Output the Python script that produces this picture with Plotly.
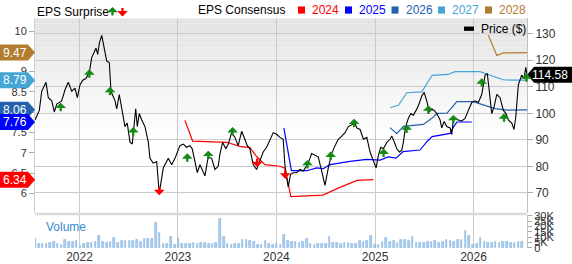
import plotly.graph_objects as go
import pandas as pd

# ---------------- data (decimal years) ----------------
price_t = [2021.548, 2021.592, 2021.616, 2021.660, 2021.683, 2021.718, 2021.744, 2021.769, 2021.819, 2021.853,
           2021.886, 2021.921, 2021.954, 2021.978, 2022.005, 2022.033, 2022.066, 2022.100, 2022.124, 2022.168,
           2022.185, 2022.201, 2022.226, 2022.249, 2022.276, 2022.303, 2022.320, 2022.361, 2022.378, 2022.404,
           2022.429, 2022.462, 2022.485, 2022.513, 2022.536, 2022.553, 2022.571, 2022.587, 2022.607, 2022.632,
           2022.665, 2022.699, 2022.716, 2022.749, 2022.784, 2022.810, 2022.851, 2022.902, 2022.936, 2022.970,
           2023.020, 2023.054, 2023.088, 2023.122, 2023.145, 2023.173, 2023.196, 2023.224, 2023.251, 2023.274,
           2023.308, 2023.342, 2023.376, 2023.409, 2023.427, 2023.454, 2023.487, 2023.511, 2023.545, 2023.579,
           2023.612, 2023.647, 2023.680, 2023.704, 2023.731, 2023.765, 2023.799, 2023.833, 2023.866, 2023.901,
           2023.934, 2023.968, 2024.002, 2024.036, 2024.069, 2024.086, 2024.104, 2024.120, 2024.144, 2024.171,
           2024.205, 2024.239, 2024.272, 2024.300, 2024.323, 2024.357, 2024.391, 2024.424, 2024.459, 2024.492,
           2024.526, 2024.560, 2024.594, 2024.627, 2024.662, 2024.695, 2024.729, 2024.764, 2024.797, 2024.814,
           2024.848, 2024.881, 2024.916, 2024.949, 2024.977, 2025.010, 2025.034, 2025.058, 2025.084, 2025.119,
           2025.152, 2025.170, 2025.203, 2025.220, 2025.247, 2025.271, 2025.287, 2025.305, 2025.322, 2025.338,
           2025.363, 2025.389, 2025.416, 2025.440, 2025.474, 2025.498, 2025.525, 2025.551, 2025.576, 2025.599,
           2025.627, 2025.660, 2025.677, 2025.701, 2025.728, 2025.762, 2025.779, 2025.795, 2025.822, 2025.846,
           2025.880, 2025.914, 2025.947, 2025.982, 2026.015, 2026.049, 2026.083, 2026.117, 2026.140, 2026.161,
           2026.185, 2026.208, 2026.236, 2026.269, 2026.303, 2026.330, 2026.353, 2026.388, 2026.411, 2026.429,
           2026.455, 2026.489, 2026.513, 2026.530, 2026.543]
price_v = [97.5, 101.1, 108.3, 111.7, 105.9, 104.7, 100.5, 103.5, 104.7, 108.9,
           111.7, 108.3, 109.5, 105.9, 110.7, 112.5, 113.1, 115.5, 121.0, 124.6,
           122.2, 126.4, 129.4, 125.2, 119.8, 119.1, 108.3, 104.7, 101.7, 107.1,
           102.3, 95.0, 96.3, 89.1, 88.4, 93.9, 101.7, 95.0, 99.9, 97.5,
           95.0, 89.1, 83.0, 81.2, 81.8, 69.8, 79.4, 83.0, 80.6, 83.0,
           87.8, 88.4, 87.2, 87.8, 86.6, 81.8, 77.6, 80.6, 78.2, 76.4,
           83.6, 83.0, 78.8, 80.0, 84.8, 89.0, 86.6, 88.4, 92.7, 90.9,
           87.8, 93.2, 90.2, 87.8, 86.6, 80.6, 78.8, 81.8, 85.4, 87.2,
           90.2, 92.7, 92.1, 90.9, 90.2, 80.6, 75.8, 72.2, 77.0, 77.6,
           77.6, 78.8, 78.2, 80.0, 81.2, 84.8, 84.2, 83.6, 78.2, 72.8,
           79.4, 84.8, 87.8, 90.2, 91.4, 92.7, 95.0, 95.6, 96.3, 94.5,
           93.9, 90.2, 90.9, 85.4, 82.4, 79.4, 84.2, 87.2, 86.6, 89.0,
           90.2, 91.4, 88.4, 86.6, 85.4, 86.0, 89.0, 93.9, 96.3, 98.1,
           99.9, 99.3, 101.1, 102.9, 106.5, 107.9, 104.7, 100.5, 101.7, 101.1,
           99.9, 97.5, 94.5, 96.9, 95.0, 94.5, 92.0, 97.5, 98.1, 97.5,
           97.1, 98.1, 101.1, 104.1, 104.7, 104.1, 107.1, 114.4, 114.9, 106.5,
           99.9, 102.3, 107.1, 105.9, 101.1, 99.9, 97.5, 96.3, 93.9, 98.7,
           110.7, 114.4, 113.1, 117.3, 114.58]

eps24_t = [2023.071, 2023.149, 2023.495, 2023.630, 2023.731, 2023.799, 2023.883, 2024.036, 2024.086, 2024.147,
           2024.472, 2024.614, 2024.817, 2024.983]
eps24_v = [7.80, 7.29, 7.26, 7.16, 7.13, 6.91, 6.71, 6.67, 6.62, 5.92, 5.96, 6.12, 6.32, 6.34]
eps25_t = [2024.076, 2024.152, 2024.307, 2024.408, 2024.475, 2024.543, 2024.746, 2024.916, 2025.051, 2025.132,
           2025.213, 2025.284, 2025.457, 2025.528, 2025.579, 2025.762, 2025.797, 2025.833, 2025.982]
eps25_v = [7.61, 6.56, 6.56, 6.63, 6.61, 6.71, 6.79, 6.84, 6.82, 6.90, 6.87, 7.03, 7.07, 7.28, 7.40, 7.48, 7.64, 7.76, 7.76]
eps26_t = [2025.152, 2025.220, 2025.287, 2025.491, 2025.576, 2025.630, 2025.731, 2025.830, 2025.995, 2026.097,
           2026.218, 2026.340, 2026.543]
eps26_v = [7.62, 7.47, 7.65, 7.70, 7.85, 7.97, 7.98, 8.26, 8.26, 8.19, 8.09, 8.05, 8.06]
eps27_t = [2025.152, 2025.237, 2025.322, 2025.474, 2025.559, 2025.579, 2025.741, 2025.812, 2026.066, 2026.168,
           2026.300, 2026.401, 2026.543]
eps27_v = [8.11, 8.17, 8.48, 8.50, 8.83, 8.91, 8.93, 9.00, 9.00, 8.91, 8.80, 8.79, 8.79]
eps28_t = [2026.150, 2026.236, 2026.303, 2026.543]
eps28_v = [9.90, 9.40, 9.46, 9.47]

beat_t = [2021.809, 2022.100, 2022.310, 2022.546, 2023.095, 2023.308, 2023.555, 2024.315, 2024.550, 2024.787,
          2025.086, 2025.320, 2025.541, 2025.795, 2026.083, 2026.310, 2026.538]
beat_p = [102.1, 114.7, 108.1, 92.9, 83.0, 84.0, 92.9, 80.5, 83.7, 96.1,
          84.8, 93.9, 101.1, 97.5, 111.3, 98.1, 113.2]
miss_t = [2022.810, 2023.805, 2024.089]
miss_p = [71.0, 81.6, 77.2]

vol_start = "2021-07-20"
vol_k = [8.9, 4.2, 3.8, 3.5, 4.5, 5.5, 3.6, 3.2, 7.5, 6.0, 5.8, 6.2, 1.8,
         3.5, 5.0, 5.2, 5.8, 11.0, 5.5, 4.8, 6.0, 9.7, 5.2, 6.5, 7.0, 6.8,
         6.2, 7.2, 6.0, 8.9, 8.2, 8.7, 23.6, 13.9, 4.0, 3.5, 10.5, 3.2, 8.3,
         4.0, 3.8, 4.2, 5.0, 3.9, 4.5, 5.2, 4.0, 3.8, 4.4, 27.0, 10.5, 3.5,
         3.2, 4.0, 3.4, 7.5, 7.2, 6.8, 5.5, 3.3, 3.0, 6.3, 3.5, 3.1, 4.0,
         3.3, 12.5, 6.5, 5.5, 5.8, 4.5, 6.0, 8.3, 4.2, 3.2, 3.8, 3.5, 4.0,
         10.8, 5.2, 4.5, 4.0, 4.8, 5.0, 3.8, 4.2, 7.0, 5.5, 6.2, 11.7, 2.5,
         3.0, 6.0, 9.2, 5.5, 6.8, 5.0, 7.5, 7.8, 6.5, 10.3, 5.2, 4.8, 5.0,
         6.0, 5.5, 6.2, 4.8, 5.8, 7.2, 6.5, 6.0, 8.0, 7.8, 15.6, 11.0, 3.0,
         4.0, 9.7, 5.5, 4.8, 5.2, 6.0, 4.5, 6.0, 5.8, 5.0, 4.6, 6.0, 5.5]

year_ticks = ["2022", "2023", "2024", "2025", "2026"]
eps_ticks = [6, 6.5, 7, 7.5, 8, 8.5, 9, 9.5, 10]
price_ticks = [70, 80, 90, 100, 110, 120, 130]
vol_ticks = [0, 5, 10, 15, 20, 25, 30]
series_names = ["2024", "2025", "2026", "2027", "2028"]
series_colors = ["#FF0000", "#0000FF", "#2361AE", "#45A6D6", "#B27D2E"]


def dy(v):
    y = int(v)
    a = pd.Timestamp(year=y, month=1, day=1)
    b = pd.Timestamp(year=y + 1, month=1, day=1)
    return a + (b - a) * (v - y)


def dl(arr):
    return [dy(v) for v in arr]


W, H = 572, 264
L, R = 35, 527
MT, MB = 14, 217
VT, VB = 219, 253.5
FONT = "Liberation Sans, Arial, sans-serif"
GREEN = "#168A16"

fig = go.Figure()

# volume
vol_dates = pd.date_range(vol_start, periods=len(vol_k), freq="14D")
fig.add_trace(go.Bar(x=vol_dates, y=[v * 1000 for v in vol_k], xaxis="x2", yaxis="y3",
                     marker=dict(color="#B3D1EE", line=dict(color="#7AAEDD", width=0.6)),
                     width=1000 * 3600 * 24 * 6, showlegend=False, hoverinfo="skip"))

# EPS consensus lines
for t, v, c in zip([eps24_t, eps25_t, eps26_t, eps27_t, eps28_t],
                   [eps24_v, eps25_v, eps26_v, eps27_v, eps28_v], series_colors):
    fig.add_trace(go.Scatter(x=dl(t), y=v, mode="lines", line=dict(color=c, width=1.2),
                             yaxis="y", xaxis="x", showlegend=False, hoverinfo="skip"))

# price
fig.add_trace(go.Scatter(x=dl(price_t), y=price_v, mode="lines", line=dict(color="#000000", width=1.1),
                         yaxis="y2", xaxis="x", showlegend=False, hoverinfo="skip"))

shapes = []
annotations = []

# gradient background for main panel
nsteps = 40
for i in range(nsteps):
    y0 = MT + (MB - MT) * i / nsteps
    y1 = MT + (MB - MT) * (i + 1) / nsteps
    f = min(1.0, (i + 0.5) / (nsteps * 0.62))
    g = int(round(0xE3 + (0xFF - 0xE3) * f))
    col = "#%02x%02x%02x" % (g, g, g)
    shapes.append(dict(type="rect", xref="paper", yref="paper", x0=L / W, x1=R / W,
                       y0=1 - y1 / H, y1=1 - y0 / H, fillcolor=col, line=dict(width=0), layer="below"))

# separator between panels
shapes.append(dict(type="line", xref="paper", yref="paper", x0=L / W, x1=R / W,
                   y0=1 - 218 / H, y1=1 - 218 / H, line=dict(color="#DADADA", width=2.5)))

ARW = dict(arrowhead=1, arrowsize=0.78, arrowwidth=2.3)

# surprise arrows
for t, p in zip(beat_t, beat_p):
    annotations.append(dict(x=dy(t), y=p, xref="x", yref="y2", text="", showarrow=True,
                            ax=0, ay=10, yshift=5, arrowcolor=GREEN, **ARW))
for t, p in zip(miss_t, miss_p):
    annotations.append(dict(x=dy(t), y=p, xref="x", yref="y2", text="", showarrow=True,
                            ax=0, ay=-10, yshift=-5, arrowcolor="#FF0000", **ARW))

# left badges (latest consensus)
last_vals = [eps24_v[-1], eps25_v[-1], eps26_v[-1], eps27_v[-1], eps28_v[-1]]
order = [4, 3, 2, 1, 0]
for i in order:
    v = last_vals[i]
    shapes.append(dict(type="path", xref="paper", yref="y", xsizemode="pixel", ysizemode="pixel",
                       xanchor=0, yanchor=v, path="M0,-8 L28,-8 L35,0 L28,8 L0,8 Z",
                       fillcolor=series_colors[i], line=dict(width=0), layer="above"))
    annotations.append(dict(x=15 / W, y=v, xref="paper", yref="y", text="%.2f" % v, showarrow=False,
                            font=dict(color="white", size=12, family=FONT), xanchor="center", yanchor="middle"))

# right price badge
lastp = price_v[-1]
shapes.append(dict(type="path", xref="paper", yref="y2", xsizemode="pixel", ysizemode="pixel",
                   xanchor=R / W, yanchor=lastp, path="M0,0 L7,-8 L45,-8 L45,8 L7,8 Z",
                   fillcolor="#000000", line=dict(width=0), layer="above"))
annotations.append(dict(x=550 / W, y=lastp, xref="paper", yref="y2", text="%.2f" % lastp, showarrow=False,
                        font=dict(color="white", size=12, family=FONT), xanchor="center", yanchor="middle"))

# price legend inside plot
shapes.append(dict(type="rect", xref="paper", yref="paper", x0=464 / W, x1=474 / W,
                   y0=1 - 27 / H, y1=1 - 22.5 / H, fillcolor="#000000", line=dict(width=0)))
annotations.append(dict(x=479 / W, y=1 - 25 / H, xref="paper", yref="paper", text="Price ($)",
                        showarrow=False, xanchor="left", yanchor="middle",
                        font=dict(color="#000000", size=12, family=FONT)))

# top legends
annotations.append(dict(x=35 / W, y=1 - 7 / H, xref="paper", yref="paper", text="EPS Surprise",
                        showarrow=False, xanchor="left", yanchor="middle",
                        font=dict(color="#000000", size=12, family=FONT)))
annotations.append(dict(x=112.5 / W, y=1 - 2 / H, xref="paper", yref="paper", text="", showarrow=True,
                        ax=0, ay=10, arrowcolor=GREEN, **ARW))
annotations.append(dict(x=122.5 / W, y=1 - 12 / H, xref="paper", yref="paper", text="", showarrow=True,
                        ax=0, ay=-10, arrowcolor="#FF0000", **ARW))
annotations.append(dict(x=196 / W, y=1 - 5.5 / H, xref="paper", yref="paper", text="EPS Consensus",
                        showarrow=False, xanchor="left", yanchor="middle",
                        font=dict(color="#000000", size=12, family=FONT)))
sq_x = [298, 345, 391.5, 438, 485]
for name, c, sx in zip(series_names, series_colors, sq_x):
    shapes.append(dict(type="rect", xref="paper", yref="paper", x0=sx / W, x1=(sx + 7) / W,
                       y0=1 - 9 / H, y1=1 - 1.5 / H, fillcolor=c, line=dict(width=0)))
    annotations.append(dict(x=(sx + 12) / W, y=1 - 5.5 / H, xref="paper", yref="paper", text=name,
                            showarrow=False, xanchor="left", yanchor="middle",
                            font=dict(color=c, size=12, family=FONT)))

# volume label
annotations.append(dict(x=44 / W, y=1 - 232 / H, xref="paper", yref="paper", text="Volume",
                        showarrow=False, xanchor="left", yanchor="middle",
                        font=dict(color="#3A8AD0", size=12, family=FONT)))

xr = [dy(2021.548), dy(2026.543)]
year_vals = [pd.Timestamp(year=int(y), month=1, day=1) for y in year_ticks]
grid = "#CBCBCB"

fig.update_layout(
    width=W, height=H, margin=dict(l=0, r=0, t=0, b=0),
    paper_bgcolor="white", plot_bgcolor="rgba(0,0,0,0)",
    showlegend=False, bargap=0,
    font=dict(family=FONT, size=11, color="#333333"),
    xaxis=dict(domain=[L / W, R / W], anchor="y", range=xr, type="date",
               tickvals=year_vals, showticklabels=False, showgrid=True, gridcolor=grid, gridwidth=1,
               ticks="", showline=False, zeroline=False),
    xaxis2=dict(domain=[L / W, R / W], anchor="y3", matches="x", range=xr, type="date",
                tickvals=year_vals, ticktext=year_ticks, showticklabels=True, showgrid=True,
                gridcolor=grid, ticks="", showline=False, tickfont=dict(size=12, color="#333333"),
                ticklabelstandoff=0),
    yaxis=dict(domain=[1 - MB / H, 1 - MT / H], range=[5.52, 10.31], tickvals=eps_ticks,
               ticktext=[("%g" % v) for v in eps_ticks], ticks="outside", ticklen=5, tickcolor="#AAAAAA",
               showgrid=False, zeroline=False, showline=True, linecolor="#CFCFCF",
               tickfont=dict(size=11, color="#333333")),
    yaxis2=dict(overlaying="y", side="right", anchor="x", range=[62.4, 135.8], tickvals=price_ticks,
                ticks="outside", ticklen=5, tickcolor="#AAAAAA", showgrid=True, gridcolor=grid,
                zeroline=False, showline=True, linecolor="#BFBFBF", tickfont=dict(size=12, color="#333333")),
    yaxis3=dict(domain=[1 - VB / H, 1 - VT / H], anchor="x2", side="right", range=[0, 31000],
                tickvals=[v * 1000 for v in vol_ticks], ticktext=[("%dK" % v) if v else "0" for v in vol_ticks],
                ticks="outside", ticklen=4, tickcolor="#AAAAAA", showgrid=False, zeroline=False,
                showline=True, linecolor="#BFBFBF", tickfont=dict(size=11, color="#333333")),
    shapes=shapes, annotations=annotations,
)

fig.write_html("out.html")
